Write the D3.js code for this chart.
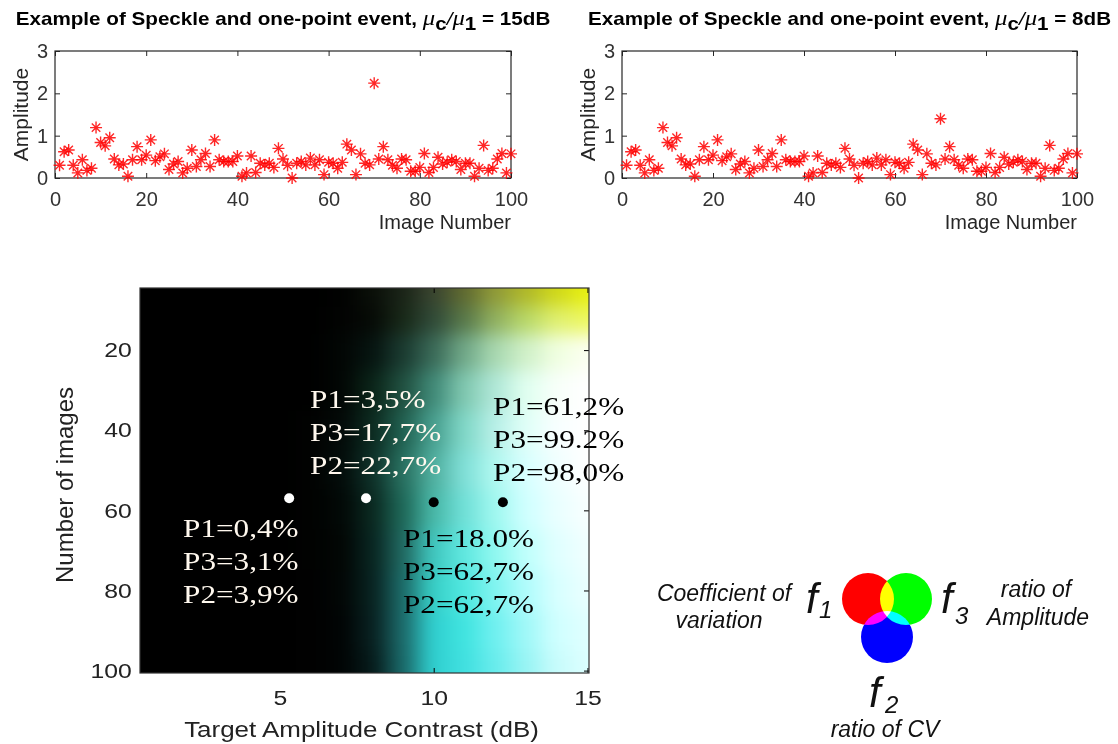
<!DOCTYPE html>
<html>
<head>
<meta charset="utf-8">
<script src="https://cdn.jsdelivr.net/npm/d3@7"></script>
<style>
body { margin: 0; background: #fff; }
svg { display: block; }
</style>
</head>
<body>
<svg id="chart" width="1118" height="744" font-family='"Liberation Sans", Arial, sans-serif'></svg>
<script>
// ---- data ----
const imageNumber = d3.range(1, 101);

const amp15 = [
  0.30, 0.62, 0.66, 0.30, 0.12, 0.43, 0.18, 0.23, 1.19, 0.84,
  0.76, 0.95, 0.45, 0.31, 0.33, 0.04, 0.43, 0.74, 0.43, 0.54,
  0.90, 0.41, 0.50, 0.57, 0.20, 0.33, 0.39, 0.12, 0.23, 0.66,
  0.27, 0.43, 0.58, 0.27, 0.90, 0.43, 0.39, 0.39, 0.39, 0.52,
  0.04, 0.12, 0.52, 0.13, 0.35, 0.31, 0.35, 0.25, 0.70, 0.45,
  0.30, 0.00, 0.35, 0.39, 0.31, 0.47, 0.31, 0.43, 0.08, 0.37,
  0.35, 0.23, 0.37, 0.80, 0.66, 0.08, 0.57, 0.35, 0.31, 2.24,
  0.45, 0.74, 0.43, 0.30, 0.23, 0.45, 0.43, 0.16, 0.16, 0.25,
  0.58, 0.13, 0.25, 0.49, 0.33, 0.37, 0.43, 0.39, 0.20, 0.35,
  0.35, 0.04, 0.23, 0.77, 0.18, 0.23, 0.45, 0.58, 0.12, 0.57
];

const amp8 = [
  0.30, 0.62, 0.66, 0.30, 0.12, 0.43, 0.18, 0.23, 1.19, 0.84,
  0.76, 0.95, 0.45, 0.31, 0.33, 0.04, 0.43, 0.74, 0.43, 0.54,
  0.90, 0.41, 0.50, 0.57, 0.20, 0.33, 0.39, 0.12, 0.23, 0.66,
  0.27, 0.43, 0.58, 0.27, 0.90, 0.43, 0.39, 0.39, 0.39, 0.52,
  0.04, 0.12, 0.52, 0.13, 0.35, 0.31, 0.35, 0.25, 0.70, 0.45,
  0.30, 0.00, 0.35, 0.39, 0.31, 0.47, 0.31, 0.43, 0.08, 0.37,
  0.35, 0.23, 0.37, 0.80, 0.66, 0.08, 0.57, 0.35, 0.31, 1.40,
  0.45, 0.74, 0.43, 0.30, 0.23, 0.45, 0.43, 0.16, 0.16, 0.25,
  0.58, 0.13, 0.25, 0.49, 0.33, 0.37, 0.43, 0.39, 0.20, 0.35,
  0.35, 0.04, 0.23, 0.77, 0.18, 0.23, 0.45, 0.58, 0.12, 0.57
];

const scatterXTicks = [0, 20, 40, 60, 80, 100];
const scatterYTicks = [0, 1, 2, 3];

// heat map: contrast (dB) columns x number-of-images rows, RGB = (f1, f3, f2)
const heatCols = [1, 2, 3, 4, 5, 6, 7, 8, 9, 10, 11, 12, 13, 14, 15];
const heatRows = [6, 12, 20, 30, 40, 50, 60, 70, 80, 90, 100];
const heatColors = [
  ["#000","#000","#000","#000","#000","#000","#010201","#0a0f08","#1a2418","#3a4530","#606a30","#909a38","#b0b828","#d0d818","#e8f010"],
  ["#000","#000","#000","#000","#000","#000","#020302","#060a06","#182818","#304a38","#58784a","#90b060","#b8d868","#e0f070","#eef860"],
  ["#000","#000","#000","#000","#000","#000","#020604","#061410","#1a3a30","#3a6a58","#70a888","#a8d8b0","#d0f0c8","#f0ffe0","#fcfff0"],
  ["#000","#000","#000","#000","#000","#000","#020604","#0a2418","#205040","#408a78","#80c8b0","#b0e8d8","#e0fff0","#f8fffa","#ffffff"],
  ["#000","#000","#000","#000","#000","#010201","#030a08","#0c2a20","#206050","#48a090","#80d8c8","#b8f0e8","#e0fff8","#f8ffff","#ffffff"],
  ["#000","#000","#000","#000","#000","#010201","#030c0a","#0e3028","#287060","#50b0a0","#80e0d8","#b0f8f0","#d8ffff","#f0ffff","#ffffff"],
  ["#000","#000","#000","#000","#000","#010201","#020806","#0a2820","#1e6858","#48b8a8","#70e0d8","#a0f8f0","#d0ffff","#eaffff","#f8ffff"],
  ["#000","#000","#000","#000","#000","#010201","#020604","#082420","#206860","#40c8c0","#60e8e0","#90f8f0","#c0fffc","#e0ffff","#f0ffff"],
  ["#000","#000","#000","#000","#000","#010101","#020605","#082220","#1c6a68","#38d0c8","#50e8e0","#80f4f0","#b0fcfc","#d8ffff","#eaffff"],
  ["#000","#000","#000","#000","#000","#010101","#010404","#082020","#1c6a6a","#30d0d0","#40e4e0","#70f0f0","#a0f8f8","#d0ffff","#e0ffff"],
  ["#000","#000","#000","#000","#000","#010101","#010404","#061a1a","#1a6868","#30d0d0","#40e0e0","#68ecec","#98f4f4","#c8fcfc","#dcffff"]
];
const heatXTicks = [5, 10, 15];
const heatYTicks = [20, 40, 60, 80, 100];

const dotDb = [5.3, 7.8, 10.0, 12.25];
const dotImages = [57, 57, 58, 58];
const dotColor = ["#ffffff", "#ffffff", "#000000", "#000000"];

const annoLines = [
  ["P1=0,4%", "P3=3,1%", "P2=3,9%"],
  ["P1=3,5%", "P3=17,7%", "P2=22,7%"],
  ["P1=18.0%", "P3=62,7%", "P2=62,7%"],
  ["P1=61,2%", "P3=99.2%", "P2=98,0%"]
];
const annoDb = [1.85, 5.98, 9.0, 11.93];
const annoImages = [66.7, 34.5, 69.2, 36.2];
const annoColor = ["#fff8ee", "#fff8ee", "#000000", "#000000"];

// ---- drawing ----
const svg = d3.select("#chart");
const STRETCH = 1.18;
const axisColor = "#262626";
const serif = '"Liberation Serif", "Times New Roman", serif';

const star = (() => {
  const r = 6, d = r * 0.7071;
  return `M${-r},0L${r},0M0,${-r}L0,${r}M${-d},${-d}L${d},${d}M${-d},${d}L${d},${-d}`;
})();

function styleAxis(sel, fontSize) {
  sel.select(".domain").remove();
  sel.attr("font-family", null).attr("font-size", null);
  sel.selectAll(".tick line").attr("stroke", axisColor);
  sel.selectAll(".tick text")
    .attr("fill", "#333")
    .attr("font-size", fontSize);
}

function drawScatter(box, values, contrast) {
  const g = svg.append("g");
  const xScale = d3.scaleLinear().domain([0, 100]).range([box.left, box.right]);
  const yScale = d3.scaleLinear().domain([0, 3]).range([box.bottom, box.top]);

  g.append("g").attr("transform", `translate(0,${box.bottom})`)
    .call(d3.axisBottom(xScale).tickValues(scatterXTicks).tickFormat(d3.format("d")).tickSize(-5).tickPadding(14))
    .call(s => styleAxis(s, 20));
  g.append("g").attr("transform", `translate(0,${box.top})`)
    .call(d3.axisTop(xScale).tickValues(scatterXTicks).tickSize(-5).tickFormat(""))
    .call(s => styleAxis(s, 20));
  g.append("g").attr("transform", `translate(${box.left},0)`)
    .call(d3.axisLeft(yScale).tickValues(scatterYTicks).tickFormat(d3.format("d")).tickSize(-5).tickPadding(7))
    .call(s => styleAxis(s, 20));
  g.append("g").attr("transform", `translate(${box.right},0)`)
    .call(d3.axisRight(yScale).tickValues(scatterYTicks).tickSize(-5).tickFormat(""))
    .call(s => styleAxis(s, 20));

  g.append("rect")
    .attr("x", box.left).attr("y", box.top)
    .attr("width", box.right - box.left).attr("height", box.bottom - box.top)
    .attr("fill", "none").attr("stroke", axisColor).attr("stroke-width", 1.2);

  g.append("g").selectAll("path")
    .data(values)
    .join("path")
    .attr("transform", (d, i) => `translate(${xScale(imageNumber[i])},${yScale(d)})`)
    .attr("d", star)
    .attr("fill", "none")
    .attr("stroke", "#ff0000")
    .attr("stroke-width", 1.4)
    .attr("stroke-opacity", 0.85);

  // title
  const t = g.append("text")
    .attr("transform", `translate(${(box.left + box.right) / 2},25) scale(${STRETCH},1)`)
    .attr("text-anchor", "middle")
    .attr("font-weight", "bold")
    .attr("font-size", 17.5)
    .attr("fill", "#000");
  t.append("tspan").text("Example of Speckle and one-point event, ");
  t.append("tspan").attr("font-style", "italic").attr("font-weight", "normal")
    .attr("font-family", serif).attr("font-size", 21).text("μ");
  t.append("tspan").attr("dy", 5).text("c");
  t.append("tspan").attr("dy", -5).attr("font-style", "italic").attr("font-weight", "normal").text("/");
  t.append("tspan").attr("font-style", "italic").attr("font-weight", "normal")
    .attr("font-family", serif).attr("font-size", 21).text("μ");
  t.append("tspan").attr("dy", 5).text("1");
  t.append("tspan").attr("dy", -5).text(` = ${contrast}dB`);

  g.append("text")
    .attr("transform", `translate(${box.left - 27},${(box.top + box.bottom) / 2}) rotate(-90)`)
    .attr("text-anchor", "middle")
    .attr("font-size", 21).attr("fill", axisColor)
    .text("Amplitude");
  g.append("text")
    .attr("x", box.right).attr("y", 229)
    .attr("text-anchor", "end")
    .attr("font-size", 20).attr("fill", axisColor)
    .text("Image Number");
}

drawScatter({ left: 55, right: 511, top: 51, bottom: 178 }, amp15, 15);
drawScatter({ left: 622, right: 1077, top: 51, bottom: 178 }, amp8, 8);

// ---- heat map ----
const hb = { left: 140, right: 589, top: 288, bottom: 673 };
const hx = d3.scaleLinear().domain([0.45, 15.05]).range([hb.left, hb.right]);
const hy = d3.scaleLinear().domain([4.5, 100.6]).range([hb.top, hb.bottom]);

const defs = svg.append("defs");
defs.append("clipPath").attr("id", "heatClip")
  .append("rect").attr("x", hb.left).attr("y", hb.top)
  .attr("width", hb.right - hb.left).attr("height", hb.bottom - hb.top);
defs.append("filter").attr("id", "soft")
  .attr("filterUnits", "userSpaceOnUse")
  .attr("color-interpolation-filters", "sRGB")
  .attr("x", hb.left - 80).attr("y", hb.top - 80)
  .attr("width", hb.right - hb.left + 160).attr("height", hb.bottom - hb.top + 160)
  .append("feGaussianBlur").attr("stdDeviation", "11 9");

const rowEdges = heatRows.map((r, i) => i === 0 ? hy.domain()[0] : (heatRows[i - 1] + r) / 2);
rowEdges.push(hy.domain()[1]);

const cells = [];
heatRows.forEach((r, ri) => {
  heatCols.forEach((c, ci) => {
    let x0 = hx(c - 0.5), x1 = hx(c + 0.5);
    let y0 = hy(rowEdges[ri]), y1 = hy(rowEdges[ri + 1]);
    if (ci === 0) x0 -= 40;
    if (ci === heatCols.length - 1) x1 += 40;
    if (ri === 0) y0 -= 40;
    if (ri === heatRows.length - 1) y1 += 40;
    cells.push({ x0, x1, y0, y1, color: heatColors[ri][ci] });
  });
});

const heat = svg.append("g").attr("clip-path", "url(#heatClip)");
heat.append("g").attr("filter", "url(#soft)")
  .selectAll("rect")
  .data(cells)
  .join("rect")
  .attr("x", d => d.x0).attr("y", d => d.y0)
  .attr("width", d => d.x1 - d.x0 + 0.6).attr("height", d => d.y1 - d.y0 + 0.6)
  .attr("fill", d => d.color);

// axes
const hAxes = svg.append("g");
hAxes.append("g").attr("transform", `translate(0,${hb.bottom})`)
  .call(d3.axisBottom(hx).tickValues(heatXTicks).tickSize(-5).tickPadding(17))
  .call(s => styleAxis(s, 21));
hAxes.append("g").attr("transform", `translate(0,${hb.top})`)
  .call(d3.axisTop(hx).tickValues(heatXTicks).tickSize(-5).tickFormat(""))
  .call(s => styleAxis(s, 21));
hAxes.append("g").attr("transform", `translate(${hb.left},0)`)
  .call(d3.axisLeft(hy).tickValues(heatYTicks).tickSize(-5).tickPadding(7))
  .call(s => styleAxis(s, 21));
hAxes.append("g").attr("transform", `translate(${hb.right},0)`)
  .call(d3.axisRight(hy).tickValues(heatYTicks).tickSize(-5).tickFormat(""))
  .call(s => styleAxis(s, 21));
hAxes.selectAll(".tick line").attr("stroke", "#000");
hAxes.selectAll(".tick text")
  .attr("transform", `scale(${STRETCH},1)`)
  .attr("fill", "#222");

hAxes.append("rect")
  .attr("x", hb.left).attr("y", hb.top)
  .attr("width", hb.right - hb.left).attr("height", hb.bottom - hb.top)
  .attr("fill", "none").attr("stroke", "#333").attr("stroke-width", 1.2);

// dots
svg.append("g").selectAll("circle")
  .data(dotDb)
  .join("circle")
  .attr("cx", d => hx(d))
  .attr("cy", (d, i) => hy(dotImages[i]))
  .attr("r", 5)
  .attr("fill", (d, i) => dotColor[i]);

// annotations
const anno = svg.append("g");
annoLines.forEach((lines, i) => {
  const t = anno.append("text")
    .attr("transform", `translate(${hx(annoDb[i])},${hy(annoImages[i])}) scale(1.2,1)`)
    .attr("font-family", serif)
    .attr("font-size", 26)
    .attr("fill", annoColor[i]);
  lines.forEach((line, j) => {
    t.append("tspan").attr("x", 0).attr("dy", j === 0 ? 0 : 33).text(line);
  });
});

// axis labels
svg.append("text")
  .attr("transform", `translate(${(hb.left + hb.right) / 2 - 3},737) scale(${STRETCH},1)`)
  .attr("text-anchor", "middle")
  .attr("font-size", 22).attr("fill", "#222")
  .text("Target Amplitude Contrast (dB)");
svg.append("text")
  .attr("transform", `translate(73,485) rotate(-90)`)
  .attr("text-anchor", "middle")
  .attr("font-size", 24).attr("fill", "#222")
  .text("Number of images");

// ---- colour key ----
const key = svg.append("g").style("isolation", "isolate");
[["#ff0000", 868, 599], ["#00ff00", 906, 599], ["#0000ff", 887, 637]].forEach(([c, cx, cy]) => {
  key.append("circle").attr("cx", cx).attr("cy", cy).attr("r", 26)
    .attr("fill", c).style("mix-blend-mode", "screen");
});

const keyText = svg.append("g").attr("font-style", "italic").attr("fill", "#111");
function keyLabel(x, y, size, str) {
  keyText.append("text").attr("x", x).attr("y", y)
    .attr("font-size", size).attr("text-anchor", "middle").text(str);
}
keyLabel(724, 601, 23, "Coefficient of");
keyLabel(719, 628, 23, "variation");
keyLabel(1036, 597, 23, "ratio of");
keyLabel(1038, 625, 23, "Amplitude");
keyLabel(885, 737, 23, "ratio of CV");

function fLabel(x, y, sub, sx, sy) {
  keyText.append("text").attr("x", x).attr("y", y).attr("font-size", 42).text("f");
  keyText.append("text").attr("x", sx).attr("y", sy).attr("font-size", 24).text(sub);
}
fLabel(806, 613, "1", 819, 618);
fLabel(941, 613, "3", 955, 624);
fLabel(869, 707, "2", 885, 713);
</script>
</body>
</html>
